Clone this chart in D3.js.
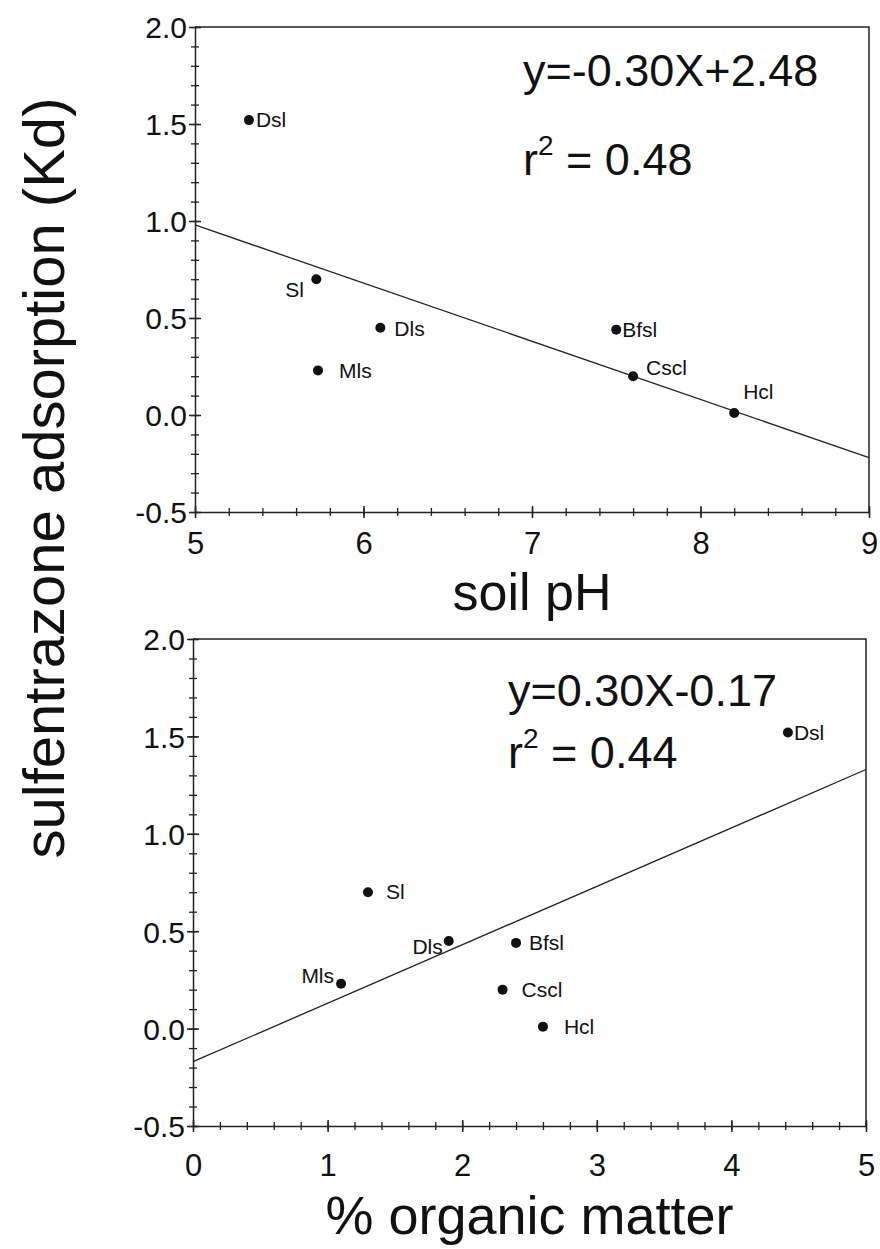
<!DOCTYPE html>
<html><head><meta charset="utf-8">
<script src="https://cdn.jsdelivr.net/npm/d3@7"></script>
<style>
body{margin:0;background:#fff;}
text{font-family:"Liberation Sans",Arial,sans-serif;fill:#111;}
</style></head>
<body>
<svg id="chart" width="880" height="1249"></svg>
<script>
// ---- data ----
const soils = ["Dsl","Sl","Dls","Mls","Bfsl","Cscl","Hcl"];
const kd = [1.52, 0.70, 0.45, 0.23, 0.44, 0.20, 0.01];
const soilPH = [5.32, 5.72, 6.10, 5.73, 7.50, 7.60, 8.20];
const organicMatter = [4.42, 1.30, 1.90, 1.10, 2.40, 2.30, 2.60];
const phFit = {slope: -0.30, intercept: 2.48, r2: "0.48", eq: "y=-0.30X+2.48"};
const omFit = {slope: 0.30, intercept: -0.17, r2: "0.44", eq: "y=0.30X-0.17"};
const yTicks = [-0.5, 0.0, 0.5, 1.0, 1.5, 2.0];
const phTicks = [5, 6, 7, 8, 9];
const omTicks = [0, 1, 2, 3, 4, 5];
const yTitle = "sulfentrazone adsorption (Kd)";
const phTitle = "soil pH";
const omTitle = "% organic matter";

// label placement (dx, dy, anchor) per soil, per panel
const phLabelPos = {Dsl:[7,7,"start"], Sl:[-31,18,"start"], Dls:[14,8,"start"], Mls:[21,8,"start"], Bfsl:[6,7,"start"], Cscl:[13,-1,"start"], Hcl:[9,-14,"start"]};
const omLabelPos = {Dsl:[6,7,"start"], Sl:[18,7,"start"], Dls:[-6,13,"end"], Mls:[-7,-1,"end"], Bfsl:[13,7,"start"], Cscl:[19,7,"start"], Hcl:[21,7,"start"]};

const svg = d3.select("#chart");

function panel(opt){
  const g = svg.append("g");
  const x = d3.scaleLinear().domain(opt.xDomain).range([opt.left, opt.right]);
  const y = d3.scaleLinear().domain([-0.5, 2.0]).range([opt.bottom, opt.top]);

  // frame (top & right)
  g.append("path")
    .attr("d", `M${opt.left},${opt.top}H${opt.right}V${opt.bottom}`)
    .attr("fill","none").attr("stroke","#222").attr("stroke-width",1.5);

  // y minor ticks
  const yMinor = d3.range(-0.5, 2.0001, 0.1).map(v => +v.toFixed(2));
  const yMin = g.append("g").attr("transform",`translate(${opt.left},0)`)
    .call(d3.axisLeft(y).tickValues(yMinor).tickSize(4).tickFormat(""));
  yMin.select(".domain").remove();
  yMin.selectAll(".tick line").attr("x1",4).attr("stroke","#222").attr("stroke-width",1.3);
  // y major
  const yAx = g.append("g").attr("transform",`translate(${opt.left},0)`)
    .call(d3.axisLeft(y).tickValues(yTicks).tickSize(6).tickSizeOuter(0).tickPadding(opt.yPad).tickFormat(d3.format(".1f")));
  yAx.select(".domain").attr("stroke","#222").attr("stroke-width",1.5);
  yAx.selectAll(".tick line").attr("x1",6).attr("stroke","#222").attr("stroke-width",1.5);
  yAx.selectAll(".tick text").attr("font-size",30).attr("fill","#111").attr("dy","0.36em")
    .text(d => d3.format(".1f")(d).replace("−","-"));

  // x minor ticks
  const step = 0.2;
  const xMinor = d3.range(opt.xDomain[0], opt.xDomain[1]+1e-6, step).map(v => +v.toFixed(2));
  const xMin = g.append("g").attr("transform",`translate(0,${opt.bottom})`)
    .call(d3.axisBottom(x).tickValues(xMinor).tickSize(4).tickFormat(""));
  xMin.select(".domain").remove();
  xMin.selectAll(".tick line").attr("y1",-4).attr("stroke","#222").attr("stroke-width",1.3);
  const xAx = g.append("g").attr("transform",`translate(0,${opt.bottom})`)
    .call(d3.axisBottom(x).tickValues(opt.xTicks).tickSize(6).tickSizeOuter(0).tickPadding(opt.xPad).tickFormat(d3.format("d")));
  xAx.select(".domain").attr("stroke","#222").attr("stroke-width",1.5);
  xAx.selectAll(".tick line").attr("y1",-6).attr("stroke","#222").attr("stroke-width",1.5);
  xAx.selectAll(".tick text").attr("font-size",31).attr("fill","#111");

  // regression line
  const fx = opt.xDomain;
  g.append("line")
    .attr("x1", x(fx[0])).attr("y1", y(opt.fit.slope*fx[0]+opt.fit.intercept))
    .attr("x2", x(fx[1])).attr("y2", y(opt.fit.slope*fx[1]+opt.fit.intercept))
    .attr("stroke","#222").attr("stroke-width",1.3);

  // points
  const pts = soils.map((s,i)=>({s, xv: opt.xs[i], yv: kd[i]}));
  g.selectAll("circle.pt").data(pts).join("circle")
    .attr("cx", d=>x(d.xv)).attr("cy", d=>y(d.yv)).attr("r",5).attr("fill","#111");
  g.selectAll("text.lab").data(pts).join("text")
    .attr("x", d=>x(d.xv)+opt.labels[d.s][0])
    .attr("y", d=>y(d.yv)+opt.labels[d.s][1])
    .attr("text-anchor", d=>opt.labels[d.s][2])
    .attr("font-size",21).text(d=>d.s);

  // equation
  g.append("text").attr("x",opt.eqX).attr("y",opt.eqY1).attr("font-size",45).text(opt.fit.eq);
  const r = g.append("text").attr("x",opt.eqX).attr("y",opt.eqY2).attr("font-size",45);
  r.append("tspan").text("r");
  r.append("tspan").attr("font-size",28).attr("dy",-20).text("2");
  r.append("tspan").attr("dy",20).text(" = " + opt.fit.r2);

  // x title
  g.append("text").attr("x",(opt.left+opt.right)/2).attr("y",opt.titleY)
    .attr("text-anchor","middle").attr("font-size",opt.titleSize).text(opt.title);
}

panel({left:195, right:869, top:27, bottom:512, xDomain:[5,9], xTicks:phTicks, xs:soilPH,
  fit:phFit, labels:phLabelPos, eqX:523, eqY1:86, eqY2:175, title:phTitle, titleY:610, titleSize:52, yPad:2, xPad:14});
panel({left:193, right:866, top:639, bottom:1126, xDomain:[0,5], xTicks:omTicks, xs:organicMatter,
  fit:omFit, labels:omLabelPos, eqX:508, eqY1:706, eqY2:768, title:omTitle, titleY:1234, titleSize:54, yPad:2, xPad:22});

// shared y title
svg.append("text").attr("transform","translate(64,478) rotate(-90)")
  .attr("text-anchor","middle").attr("font-size",58).text(yTitle);
</script>
</body></html>
